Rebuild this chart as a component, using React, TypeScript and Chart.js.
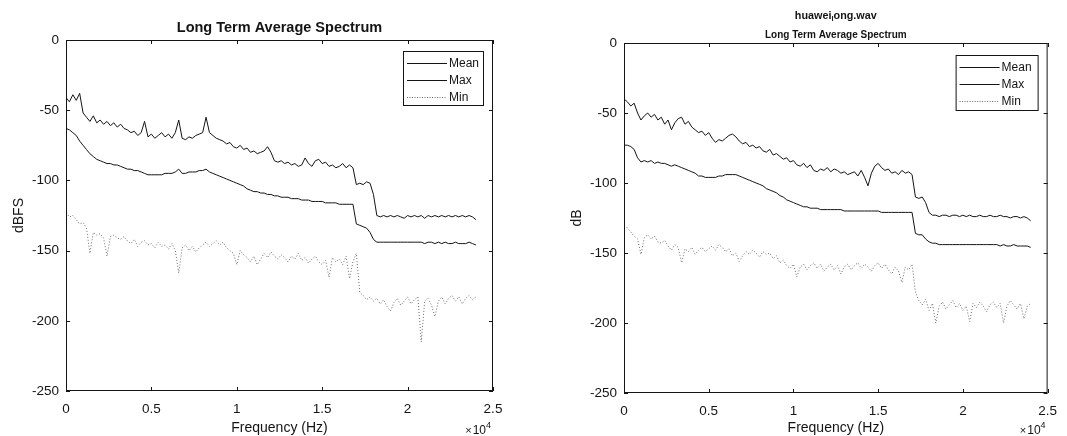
import React, { useEffect, useRef } from "react";
import { Chart, registerables } from "chart.js";

Chart.register(...registerables);

// ---------------- DATA ----------------
const FREQ_HZ = [
  0, 200, 400, 600, 800, 1000, 1200, 1400, 1600, 1800,
  2000, 2200, 2400, 2600, 2800, 3000, 3200, 3400, 3600, 3800,
  4000, 4200, 4400, 4600, 4800, 5000, 5200, 5400, 5600, 5800,
  6000, 6200, 6400, 6600, 6800, 7000, 7200, 7400, 7600, 7800,
  8000, 8200, 8400, 8600, 8800, 9000, 9200, 9400, 9600, 9800,
  10000, 10200, 10400, 10600, 10800, 11000, 11200, 11400, 11600, 11800,
  12000, 12200, 12400, 12600, 12800, 13000, 13200, 13400, 13600, 13800,
  14000, 14200, 14400, 14600, 14800, 15000, 15200, 15400, 15600, 15800,
  16000, 16200, 16400, 16600, 16800, 17000, 17200, 17400, 17600, 17800,
  18000, 18200, 18400, 18600, 18800, 19000, 19200, 19400, 19600, 19800,
  20000, 20200, 20400, 20600, 20800, 21000, 21200, 21400, 21600, 21800,
  22000, 22200, 22400, 22600, 22800, 23000, 23200, 23400, 23600, 23800,
  24000,
];

// Left panel (dBFS)
const LEFT_MAX = [
  -41, -44, -39, -43, -38, -52, -55, -58, -54, -59,
  -57, -60, -58, -61, -59, -62, -60, -63, -64, -66,
  -65, -68, -66, -58, -69, -67, -70, -68, -66, -69,
  -67, -70, -66, -57, -70, -71, -69, -70, -68, -67,
  -66, -55, -66, -68, -70, -71, -72, -74, -73, -76,
  -77, -75, -78, -77, -80, -79, -81, -80, -79, -76,
  -80, -86, -87, -86, -88, -87, -89, -88, -90, -89,
  -84, -88, -90, -86, -85, -88, -87, -90, -89, -91,
  -90, -88, -91, -89, -91, -103, -102, -103, -101, -102,
  -110, -125, -126, -125, -126, -125, -126, -125, -126, -127,
  -125, -126, -125, -126, -125, -127, -125, -126, -125, -126,
  -125, -126, -125, -126, -125, -126, -125, -126, -125, -126,
  -128,
];
const LEFT_MEAN = [
  -63, -64, -66, -68, -72, -75, -78, -81, -83, -85,
  -86, -87, -88, -88, -89, -89, -90, -91, -92, -92,
  -93, -93, -94, -95, -96, -96, -96, -96, -96, -95,
  -95, -95, -94, -92, -95, -95, -94, -94, -94, -93,
  -93, -92, -94, -95, -96, -97, -98, -99, -100, -101,
  -102, -103, -104, -106, -107, -108, -108, -109, -109, -110,
  -110, -111, -111, -112, -112, -112, -113, -113, -113, -114,
  -114, -114, -115, -115, -115, -115, -116, -116, -116, -116,
  -117, -117, -117, -117, -117, -131, -132, -133, -134, -137,
  -142, -144, -144, -144, -144, -144, -144, -144, -144, -144,
  -144, -144, -144, -144, -144, -145, -144, -144, -145, -144,
  -145, -144, -145, -145, -144, -145, -145, -145, -144, -145,
  -146,
];
const LEFT_MIN = [
  -123, -126, -125, -128, -131, -130, -134, -152, -137, -139,
  -138, -141, -154, -140, -139, -141, -142, -140, -143, -145,
  -142, -147, -144, -143, -146, -145, -148, -144, -147, -146,
  -149, -145, -150, -166, -148, -146, -150, -147, -151, -148,
  -146, -144, -147, -145, -143, -146, -144, -148, -150, -152,
  -160, -150, -153, -155, -158, -154, -160, -156, -152, -155,
  -151, -154, -156, -153, -155, -158, -154, -156, -152, -157,
  -155, -159, -156, -154, -158, -160, -157, -169, -155, -158,
  -156, -160, -154, -170, -158, -152, -180, -182, -185, -183,
  -186, -184, -188, -185, -190, -193, -187, -184, -189, -186,
  -183, -188, -185, -183, -215, -186, -184, -189, -197, -186,
  -183, -188, -184, -182, -186, -183, -188, -184, -182, -185,
  -183,
];

// Right panel (dB)
const RIGHT_MAX = [
  -40, -42, -45, -43, -50, -55, -52, -50, -53, -51,
  -55, -53, -58, -55, -62, -57, -54, -53, -58, -56,
  -60, -62, -64, -63, -66, -64, -68, -71, -69, -70,
  -68, -66, -65, -67, -70, -72, -71, -74, -73, -75,
  -74, -77, -78, -76, -80, -79, -81, -83, -82, -85,
  -84, -87, -88, -86, -89, -87, -91, -92, -90, -91,
  -89, -92, -90, -91, -93, -92, -94, -93, -92, -95,
  -91, -96, -102, -93, -88, -86, -89, -91, -90, -93,
  -92, -94, -91, -93, -92, -94, -110, -111, -110, -114,
  -121, -123, -123, -124, -123, -123, -124, -123, -123, -124,
  -123, -124, -123, -124, -124, -123, -124, -124, -123, -124,
  -124, -123, -124, -124, -125, -124, -124, -125, -124, -125,
  -127,
];
const RIGHT_MEAN = [
  -73, -73, -74, -76, -82, -85, -84, -85, -84, -86,
  -85, -86, -86, -87, -88, -87, -88, -89, -90, -91,
  -92, -93, -95, -95, -96, -96, -96, -96, -95, -95,
  -94, -94, -94, -94, -95, -96, -97, -98, -99, -100,
  -101, -102, -104, -105, -106, -107, -109, -110, -112, -113,
  -114, -115, -116, -117, -117, -118, -118, -118, -119, -119,
  -119, -119, -119, -119, -119, -120, -120, -120, -120, -120,
  -120, -120, -120, -120, -120, -120, -121, -121, -121, -121,
  -121, -121, -121, -121, -121, -121, -136, -137, -137, -140,
  -142, -143, -143, -144, -144, -144, -144, -144, -144, -144,
  -144, -144, -144, -144, -144, -144, -144, -144, -144, -144,
  -144, -145, -144, -145, -145, -144, -145, -145, -145, -145,
  -146,
];
const RIGHT_MIN = [
  -131, -132, -135, -138, -140, -151, -139, -137, -140, -138,
  -142, -143, -141, -145, -148, -144, -146, -157, -147, -149,
  -146, -151, -148, -146, -149, -147, -145, -148, -144, -146,
  -149, -147, -152, -150, -156, -152, -149, -151, -148, -150,
  -153, -149, -151, -150, -154, -152, -157, -155, -159, -161,
  -158, -167, -160, -158, -162, -159, -157, -161, -158, -163,
  -160, -158, -162, -159, -165, -160, -158, -162, -159, -157,
  -161, -158, -160, -163, -159, -157, -161, -158, -162, -165,
  -160, -163, -171, -160, -162, -158, -178, -184, -187, -183,
  -191, -186, -200, -188, -185, -190, -187, -184, -189, -186,
  -191, -188, -199, -186, -189, -185, -188, -192, -187, -185,
  -189, -186, -200, -188, -184, -187, -190, -186, -197, -188,
  -186,
];

const SERIES_NAMES = ["Mean", "Max", "Min"];
const X_TICK_VALUES = [0, 5000, 10000, 15000, 20000, 25000];
const X_TICK_LABELS = ["0", "0.5", "1", "1.5", "2", "2.5"];
const Y_TICK_VALUES = [0, -50, -100, -150, -200, -250];
const Y_TICK_LABELS = ["0", "-50", "-100", "-150", "-200", "-250"];

// ---------------- STYLE ----------------
const FONT = "'Liberation Sans', Arial, Helvetica, sans-serif";
const INK = "#141414";
const MIN_INK = "#6a6a6a";

type Panel = {
  width: number;
  height: number;
  left: number;
  plotLeft: number;
  plotRight: number;
  plotTop: number;
  plotBottom: number;
  titles: { text: string; sub?: [string, string, string]; size: number; dy: number }[];
  yTitle: string;
  mean: number[];
  max: number[];
  min: number[];
  legend: { w: number; h: number; top: number; right: number };
};

const PANELS: Panel[] = [
  {
    width: 530,
    height: 436,
    left: 0,
    plotLeft: 66,
    plotRight: 493,
    plotTop: 40,
    plotBottom: 391,
    titles: [{ text: "Long Term Average Spectrum", size: 14.5, dy: -12 }],
    yTitle: "dBFS",
    mean: LEFT_MEAN,
    max: LEFT_MAX,
    min: LEFT_MIN,
    legend: { w: 80, h: 54, top: 11, right: 10 },
  },
  {
    width: 537,
    height: 436,
    left: 530,
    plotLeft: 94,
    plotRight: 525,
    plotTop: 43,
    plotBottom: 393,
    titles: [
      { text: "huawei_long.wav", sub: ["huawei", "l", "ong.wav"], size: 10.8, dy: -27 },
      { text: "Long Term Average Spectrum", size: 10, dy: -8 },
    ],
    yTitle: "dB",
    mean: RIGHT_MEAN,
    max: RIGHT_MAX,
    min: RIGHT_MIN,
    legend: { w: 82, h: 55, top: 12, right: 10 },
  },
];

function decorPlugin(p: Panel) {
  return {
    id: "matlabDecor",
    afterDraw(chart: any) {
      const { ctx, chartArea: a } = chart;
      const xs = chart.scales.x;
      const ys = chart.scales.y;
      ctx.save();
      ctx.strokeStyle = INK;
      ctx.fillStyle = INK;
      ctx.lineWidth = 1;
      ctx.setLineDash([]);
      // box
      ctx.strokeRect(a.left + 0.5, a.top + 0.5, a.right - a.left - 1, a.bottom - a.top - 1);
      // inward ticks
      const TL = 4;
      ctx.beginPath();
      X_TICK_VALUES.forEach((v) => {
        const px = Math.round(xs.getPixelForValue(v)) + 0.5;
        ctx.moveTo(px, a.bottom);
        ctx.lineTo(px, a.bottom - TL);
        ctx.moveTo(px, a.top);
        ctx.lineTo(px, a.top + TL);
      });
      Y_TICK_VALUES.forEach((v) => {
        const py = Math.round(ys.getPixelForValue(v)) + 0.5;
        ctx.moveTo(a.left, py);
        ctx.lineTo(a.left + TL, py);
        ctx.moveTo(a.right, py);
        ctx.lineTo(a.right - TL, py);
      });
      ctx.stroke();

      const cx = (a.left + a.right) / 2;
      // titles
      ctx.textBaseline = "middle";
      p.titles.forEach((t) => {
        ctx.font = `bold ${t.size}px ${FONT}`;
        if (t.sub) {
          const [s1, s2, s3] = t.sub;
          const w1 = ctx.measureText(s1).width;
          const w3 = ctx.measureText(s3).width;
          ctx.font = `bold ${t.size * 0.7}px ${FONT}`;
          const w2 = ctx.measureText(s2).width;
          let x = cx - (w1 + w2 + w3) / 2;
          ctx.textAlign = "left";
          ctx.font = `bold ${t.size}px ${FONT}`;
          ctx.fillText(s1, x, a.top + t.dy);
          x += w1;
          ctx.font = `bold ${t.size * 0.7}px ${FONT}`;
          ctx.fillText(s2, x, a.top + t.dy + 3);
          x += w2;
          ctx.font = `bold ${t.size}px ${FONT}`;
          ctx.fillText(s3, x, a.top + t.dy);
        } else {
          ctx.textAlign = "center";
          ctx.fillText(t.text, cx, a.top + t.dy);
        }
      });

      // x axis title
      ctx.font = `14px ${FONT}`;
      ctx.textAlign = "center";
      ctx.fillText("Frequency (Hz)", cx, 428);

      // exponent  x10^4
      ctx.textAlign = "left";
      ctx.font = `9px ${FONT}`;
      const wSup = ctx.measureText("4").width;
      ctx.font = `12px ${FONT}`;
      const wTen = ctx.measureText("10").width;
      ctx.font = `11px ${FONT}`;
      const wX = ctx.measureText("\u00d7").width;
      let ex = a.right - 2 - wSup - wTen - wX - 1;
      const ey = 431;
      ctx.fillText("\u00d7", ex, ey);
      ex += wX + 1;
      ctx.font = `12px ${FONT}`;
      ctx.fillText("10", ex, ey);
      ex += wTen;
      ctx.font = `9px ${FONT}`;
      ctx.fillText("4", ex, ey - 5);

      // y axis title
      ctx.save();
      ctx.translate(a.left - 47, (a.top + a.bottom) / 2);
      ctx.rotate(-Math.PI / 2);
      ctx.font = `14px ${FONT}`;
      ctx.textAlign = "center";
      ctx.fillText(p.yTitle, 0, 0);
      ctx.restore();

      // legend
      const L = p.legend;
      const lx = a.right - L.right - L.w;
      const ly = a.top + L.top;
      ctx.fillStyle = "#ffffff";
      ctx.fillRect(lx, ly, L.w, L.h);
      ctx.strokeStyle = INK;
      ctx.lineWidth = 1;
      ctx.strokeRect(lx + 0.5, ly + 0.5, L.w, L.h);
      ctx.font = `12px ${FONT}`;
      ctx.textAlign = "left";
      ctx.textBaseline = "middle";
      SERIES_NAMES.forEach((name, i) => {
        const ry = Math.round(ly + 12 + i * 17) + 0.5;
        ctx.beginPath();
        if (name === "Min") {
          ctx.strokeStyle = MIN_INK;
          ctx.setLineDash([1, 1.5]);
        } else {
          ctx.strokeStyle = INK;
          ctx.setLineDash([]);
        }
        ctx.moveTo(lx + 4, ry);
        ctx.lineTo(lx + 44, ry);
        ctx.stroke();
        ctx.setLineDash([]);
        ctx.fillStyle = INK;
        ctx.fillText(name, lx + 46, ry);
      });
      ctx.restore();
    },
  };
}

function SpectrumPanel({ p }: { p: Panel }) {
  const ref = useRef<HTMLCanvasElement | null>(null);
  useEffect(() => {
    if (!ref.current) return;
    const pts = (arr: number[]) => FREQ_HZ.map((f, i) => ({ x: f, y: arr[i] }));
    const chart = new Chart(ref.current, {
      type: "line",
      data: {
        datasets: [
          {
            label: "Mean",
            data: pts(p.mean),
            borderColor: INK,
            borderWidth: 1,
            pointRadius: 0,
            tension: 0,
          },
          {
            label: "Max",
            data: pts(p.max),
            borderColor: INK,
            borderWidth: 1,
            pointRadius: 0,
            tension: 0,
          },
          {
            label: "Min",
            data: pts(p.min),
            borderColor: MIN_INK,
            borderWidth: 1,
            borderDash: [1, 2],
            pointRadius: 0,
            tension: 0,
          },
        ],
      },
      options: {
        animation: false,
        responsive: false,
        devicePixelRatio: 1,
        layout: {
          padding: { left: 0, top: p.plotTop, right: p.width - p.plotRight, bottom: 0 },
        },
        plugins: {
          legend: { display: false },
          title: { display: false },
          tooltip: { enabled: false },
        },
        scales: {
          x: {
            type: "linear",
            min: 0,
            max: 25000,
            grid: { display: false, drawTicks: false, tickLength: 0 },
            border: { display: false },
            afterBuildTicks: (s: any) => {
              s.ticks = X_TICK_VALUES.map((v) => ({ value: v }));
            },
            afterFit: (s: any) => {
              s.height = p.height - p.plotBottom;
            },
            ticks: {
              autoSkip: false,
              maxRotation: 0,
              padding: 10,
              color: INK,
              font: { family: FONT, size: 13.5 },
              callback: (_v: any, i: number) => X_TICK_LABELS[i],
            },
          },
          y: {
            type: "linear",
            min: -250,
            max: 0,
            grid: { display: false, drawTicks: false, tickLength: 0 },
            border: { display: false },
            afterBuildTicks: (s: any) => {
              s.ticks = Y_TICK_VALUES.map((v) => ({ value: v }));
            },
            afterFit: (s: any) => {
              s.width = p.plotLeft;
            },
            ticks: {
              autoSkip: false,
              padding: 7,
              color: INK,
              font: { family: FONT, size: 13.5 },
              callback: (v: any) => {
                const k = Y_TICK_VALUES.indexOf(Number(v));
                return k >= 0 ? Y_TICK_LABELS[k] : "";
              },
            },
          },
        },
      } as any,
      plugins: [decorPlugin(p)],
    });
    return () => chart.destroy();
  }, [p]);
  return (
    <canvas
      ref={ref}
      width={p.width}
      height={p.height}
      style={{ position: "absolute", left: p.left, top: 0, width: p.width, height: p.height }}
    />
  );
}

export default function App() {
  return (
    <div
      style={{
        position: "fixed",
        left: 0,
        top: 0,
        width: 1067,
        height: 436,
        background: "#ffffff",
        overflow: "hidden",
      }}
    >
      {PANELS.map((p, i) => (
        <SpectrumPanel key={i} p={p} />
      ))}
    </div>
  );
}
